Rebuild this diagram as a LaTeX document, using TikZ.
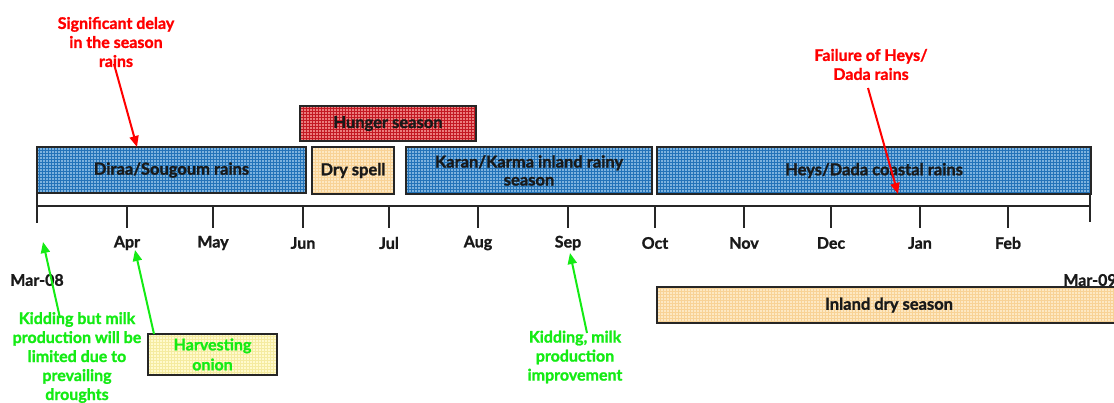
\documentclass[tikz,border=0pt]{standalone}
\usepackage{fontspec}
\setmainfont{Lato}[BoldFeatures={FakeBold=1.3}]
\usetikzlibrary{arrows.meta,patterns}
\definecolor{blueback}{RGB}{125,178,222}
\definecolor{blueline}{RGB}{35,115,185}
\definecolor{redback}{RGB}{235,125,125}
\definecolor{redline}{RGB}{195,25,35}
\definecolor{orangeback}{RGB}{253,232,195}
\definecolor{orangeline}{RGB}{248,210,150}
\definecolor{yellowback}{RGB}{255,250,205}
\definecolor{yellowline}{RGB}{245,235,160}
\definecolor{redtext}{RGB}{255,0,0}
\definecolor{greentext}{RGB}{20,235,20}
\tikzset{
  season/.style={draw=black!85, line width=1.6pt, inner sep=0pt, align=center,
    font=\bfseries\fontsize{16.5}{18}\selectfont, text=black!90},
  bluebox/.style={season, preaction={fill=blueback}, preaction={pattern=grid, pattern color=blueline}},
  redbox/.style={season, preaction={fill=redback}, preaction={pattern=grid, pattern color=redline}},
  orangebox/.style={season, preaction={fill=orangeback}, preaction={pattern=grid, pattern color=orangeline}},
  yellowbox/.style={season, preaction={fill=yellowback}, preaction={pattern=grid, pattern color=yellowline}},
  month/.style={font=\bfseries\fontsize{16}{18}\selectfont, text=black!90, inner sep=0pt},
  note/.style={font=\bfseries\fontsize{16}{19}\selectfont, align=center, inner sep=0pt},
  rednote/.style={note, text=redtext},
  greennote/.style={note, text=greentext},
  redarrow/.style={draw=redtext, line width=2pt, -{Triangle[length=11pt,width=9pt]}},
  greenarrow/.style={draw=greentext, line width=2pt, -{Triangle[length=11pt,width=9pt]}},
  tickline/.style={line width=1.5pt, black!85}
}
\begin{document}
\begin{tikzpicture}[x=1pt,y=-1pt]
\useasboundingbox (0,0) rectangle (1114,402);

% timeline
\draw[tickline] (37,206) -- (1090,206);
\draw[tickline] (37,193) -- (37,223);
\draw[tickline] (1090,193) -- (1090,222);
\foreach \x in {127,213,303,389,478,568,655,744,831,920,1008}
  \draw[tickline] (\x,206) -- (\x,228);

% season boxes
\node[bluebox, minimum width=269pt, minimum height=46pt] (dira) at (171.5,170) {Diraa/Sougoum rains};
\node[redbox, minimum width=176pt, minimum height=35pt] (hunger) at (388,123.5) {Hunger season};
\node[orangebox, minimum width=82pt, minimum height=47pt] (dry) at (353,170.5) {Dry spell};
\node[bluebox, minimum width=246pt, minimum height=47pt] (karan) at (529,170.5) {Karan/Karma inland rainy\\season};
\node[bluebox, minimum width=434pt, minimum height=47pt] (heys) at (874,170.5) {Heys/Dada coastal rains};
\node[orangebox, minimum width=464pt, minimum height=36pt] (inland) at (889,305) {Inland dry season};
\node[yellowbox, minimum width=129pt, minimum height=41pt, text=greentext, font=\bfseries\fontsize{16}{20}\selectfont] (onion) at (212.5,354.5) {Harvesting\\onion};

% month labels
\node[month] (mar08) at (37,280) {Mar-08};
\node[month] (apr) at (127,243) {Apr};
\node[month] (may) at (213,243) {May};
\node[month] (jun) at (303,243) {Jun};
\node[month] (jul) at (389,243) {Jul};
\node[month] (aug) at (478,243) {Aug};
\node[month] (sep) at (568,243) {Sep};
\node[month] (oct) at (655,243) {Oct};
\node[month] (nov) at (744,243) {Nov};
\node[month] (dec) at (831,243) {Dec};
\node[month] (jan) at (920,243) {Jan};
\node[month] (feb) at (1008,243) {Feb};
\node[month] (mar09) at (1090,280) {Mar-09};

% notes
\node[rednote] (delay) at (116,42) {Significant delay\\in the season\\rains};
\node[rednote] (fail) at (871,64.5) {Failure of Heys/\\Dada rains};
\node[greennote] (kid1) at (77,357.5) {Kidding but milk\\production will be\\limited due to\\prevailing\\droughts};
\node[greennote] (kid2) at (575,357) {Kidding, milk\\production\\improvement};

% arrow end points
\coordinate (delaytip) at (137,147);
\coordinate (delaystart) at (114,64);
\coordinate (failstart) at (868,88);
\coordinate (failtip) at (898,194);
\coordinate (kid1start) at (60,318);
\coordinate (kid1tip) at (43,242);
\coordinate (onionstart) at (154,334);
\coordinate (oniontip) at (135,250);
\coordinate (kid2start) at (587,333);
\coordinate (kid2tip) at (570,253);

\draw[redarrow] (delaystart) -- (delaytip);
\draw[redarrow] (failstart) -- (failtip);
\draw[greenarrow] (kid1start) -- (kid1tip);
\draw[greenarrow] (onionstart) -- (oniontip);
\draw[greenarrow] (kid2start) -- (kid2tip);
\end{tikzpicture}
\end{document}
